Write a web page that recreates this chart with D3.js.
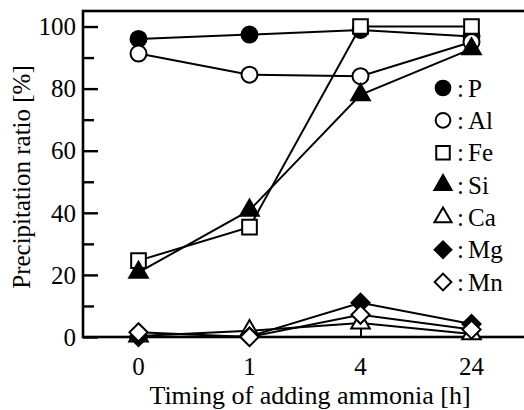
<!DOCTYPE html>
<html>
<head>
<meta charset="utf-8">
<script src="https://cdn.jsdelivr.net/npm/d3@7"></script>
<style>
  html, body { margin: 0; padding: 0; background: #fff; }
  svg { display: block; }
</style>
</head>
<body>
<svg id="chart" width="524" height="410"></svg>
<script>
const categories = ["0", "1", "4", "24"];
const yTicks = [0, 20, 40, 60, 80, 100];
const yMinorTicks = [10, 30, 50, 70, 90];
const xTitle = "Timing of adding ammonia [h]";
const yTitle = "Precipitation ratio [%]";

const seriesNames = ["P", "Al", "Fe", "Si", "Ca", "Mg", "Mn"];
const P  = [96.0, 97.4, 98.9, 96.8];
const Al = [91.3, 84.5, 84.0, 95.0];
const Fe = [24.6, 35.4, 100.0, 100.0];
const Si = [20.8, 40.8, 78.0, 92.8];
const Ca = [0.3, 2.0, 4.5, 1.0];
const Mg = [0.0, 0.2, 11.0, 4.2];
const Mn = [1.5, 0.0, 7.2, 2.4];
const seriesValues = [P, Al, Fe, Si, Ca, Mg, Mn];
const seriesSymbols = ["circle", "circle", "square", "triangle", "triangle", "diamond", "diamond"];
const seriesFilled = [true, false, false, true, false, true, false];

const FONT = "'Liberation Serif'";
const svg = d3.select("#chart");
const mLeft = 83, mRight = 527, mTop = 11, mBottom = 337;

const x = d3.scalePoint().domain(categories).range([mLeft, mRight]).padding(0.5);
const y = d3.scaleLinear().domain([0, 105]).range([mBottom, mTop]);

const symType = { circle: d3.symbolCircle, square: d3.symbolSquare, triangle: d3.symbolTriangle, diamond: d3.symbolSquare };
const symSize = { circle: 200, square: 215, triangle: 150, diamond: 165 };
const symRot = { circle: 0, square: 0, triangle: 0, diamond: 45 };

function symPath(kind, scale) {
  return d3.symbol().type(symType[kind]).size(symSize[kind] * (scale || 1))();
}
function txt(sel, size) {
  return sel.style("font-family", FONT).style("font-size", size + "px").attr("fill", "#000");
}

// frame
svg.append("rect").attr("x", mLeft).attr("y", mTop).attr("width", mRight - mLeft).attr("height", mBottom - mTop)
  .attr("fill", "none").attr("stroke", "#000").attr("stroke-width", 2.6);

// y axis ticks inward
const yAxis = d3.axisRight(y).tickValues(yTicks).tickSize(15).tickFormat("");
svg.append("g").attr("transform", `translate(${mLeft},0)`).call(yAxis)
  .call(g => g.select(".domain").remove())
  .call(g => g.selectAll("line").attr("stroke", "#000").attr("stroke-width", 2.4));
const yMinor = d3.axisRight(y).tickValues(yMinorTicks).tickSize(11).tickFormat("");
svg.append("g").attr("transform", `translate(${mLeft},0)`).call(yMinor)
  .call(g => g.select(".domain").remove())
  .call(g => g.selectAll("line").attr("stroke", "#000").attr("stroke-width", 2.4));
// y labels
svg.append("g").selectAll("text").data(yTicks).join("text")
  .attr("x", 76).attr("y", d => y(d)).attr("dy", "0.35em")
  .attr("text-anchor", "end").call(txt, 25).text(d => d);

// x axis ticks inward
const xAxis = d3.axisTop(x).tickSize(12).tickFormat("");
svg.append("g").attr("transform", `translate(0,${mBottom})`).call(xAxis)
  .call(g => g.select(".domain").remove())
  .call(g => g.selectAll("line").attr("stroke", "#000").attr("stroke-width", 2));
svg.append("g").selectAll("text").data(categories).join("text")
  .attr("x", d => x(d)).attr("y", 375)
  .attr("text-anchor", "middle").call(txt, 25).text(d => d);

// titles
svg.append("text").attr("x", 310).attr("y", 404).attr("text-anchor", "middle")
  .call(txt, 26).text(xTitle);
svg.append("text").attr("transform", "translate(30,177) rotate(-90)").attr("text-anchor", "middle")
  .call(txt, 25).text(yTitle);

// series
const line = d3.line().x((d, i) => x(categories[i])).y(d => y(d));
seriesValues.forEach((vals, si) => {
  const kind = seriesSymbols[si];
  const g = svg.append("g");
  g.append("path").attr("d", line(vals)).attr("fill", "none").attr("stroke", "#000").attr("stroke-width", 2);
  g.selectAll("path.m").data(vals).join("path").attr("class", "m")
    .attr("d", symPath(kind))
    .attr("transform", (d, i) => `translate(${x(categories[i])},${y(d)}) rotate(${symRot[kind]})`)
    .attr("fill", seriesFilled[si] ? "#000" : "#fff")
    .attr("stroke", "#000").attr("stroke-width", 2);
});

// legend
const ly = d3.scaleLinear().domain([0, seriesNames.length - 1]).range([88, 282]);
const lg = svg.append("g");
seriesNames.forEach((name, i) => {
  const cy = ly(i);
  const kind = seriesSymbols[i];
  lg.append("path").attr("d", symPath(kind, 0.85))
    .attr("transform", `translate(443,${cy}) rotate(${symRot[kind]})`)
    .attr("fill", seriesFilled[i] ? "#000" : "#fff")
    .attr("stroke", "#000").attr("stroke-width", 2);
  const t = lg.append("text").attr("x", 457).attr("y", cy).attr("dy", "0.35em").call(txt, 25);
  t.append("tspan").text(":");
  t.append("tspan").attr("x", 468).text(name);
});
</script>
</body>
</html>
